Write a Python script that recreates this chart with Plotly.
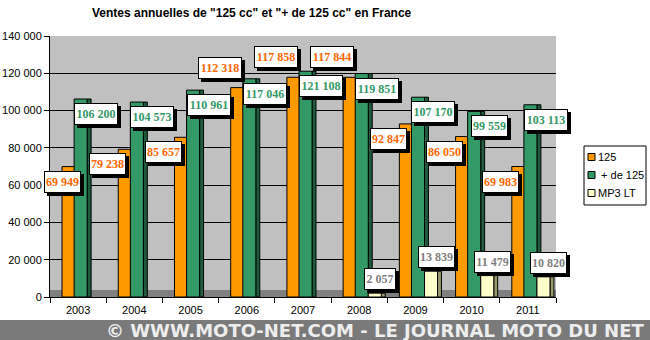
import plotly.graph_objects as go

years = ["2003", "2004", "2005", "2006", "2007", "2008", "2009", "2010", "2011"]
v125 = [69949, 79238, 85657, 112318, 117858, 117844, 92847, 86050, 69983]
vplus125 = [106200, 104573, 110961, 117046, 121108, 119851, 107170, 99559, 103113]
vmp3 = [None, None, None, None, None, 2057, 13839, 11479, 10820]
names = ["125", " + de 125", "MP3 LT"]
y_ticks = [0, 20000, 40000, 60000, 80000, 100000, 120000, 140000]

W, H = 650, 340
L, R, T, B = 50, 94, 36, 43
pw, ph = W - L - R, H - T - B
cat_w = pw / len(years)

def fmt(v):
    return f"{v:,}".replace(",", " ")

def px_x(p):
    return (p - L) / pw

def px_y(p):
    return (H - B - p) / ph

colors = ["#FF9900", "#339966", "#FFFFCC"]
side_colors = [None, "#1E5C3C", "#99996B"]
bw = 0.232        # bar width in category units
sw = 0.07         # depth side width
offsets = [-0.286, -0.071, 0.161]

fig = go.Figure()
for k, (name, vals, col) in enumerate(zip(names, [v125, vplus125, vmp3], colors)):
    if side_colors[k]:
        fig.add_trace(go.Bar(x=years, y=vals, showlegend=False, hoverinfo="skip",
                             width=sw, offset=offsets[k] + bw,
                             marker=dict(color=side_colors[k], line=dict(color="black", width=1))))
    fig.add_trace(go.Bar(x=years, y=vals, name=name, showlegend=False, hoverinfo="skip",
                         width=bw, offset=offsets[k],
                         marker=dict(color=col, line=dict(color="black", width=1))))

ann = []
def label(i, v, text_color, xs, ys):
    s = fmt(v)
    w = {7: 42, 6: 35, 5: 30}.get(len(s), 6 * len(s) + 2)
    # keep the box centre at least 13 px inside the plot area
    xs = max(xs, 13 - (i + 0.5) * cat_w)
    common = dict(x=i, y=v, xref="x", yref="y", showarrow=False, borderpad=0,
                  borderwidth=1, xanchor="center", yanchor="middle", width=w, height=20)
    ann.append(dict(common, text="&nbsp;", xshift=xs + 3, yshift=ys - 3, bgcolor="black",
                    bordercolor="black",
                    font=dict(family="Liberation Serif", size=12, color="black")))
    ann.append(dict(common, text="<b>" + s + "</b>", xshift=xs, yshift=ys, bgcolor="white",
                    bordercolor="black",
                    font=dict(family="Liberation Serif", size=12, color=text_color)))

for i, v in enumerate(v125):
    label(i, v, "#FF6600", -27, 20 if v > 110000 else -15)
for i, v in enumerate(vplus125):
    label(i, v, "#339966", 18, -15)
for i, v in enumerate(vmp3):
    if v is not None:
        label(i, v, "#808080", 21, 14)

ann.append(dict(text="<b>Ventes annuelles de \"125 cc\" et \"+ de 125 cc\" en France</b>",
                xref="paper", yref="paper", x=px_x(252), y=px_y(13), showarrow=False,
                xanchor="center", yanchor="middle",
                font=dict(family="Liberation Sans", size=12, color="black")))
ann.append(dict(text="<b>© WWW.MOTO-NET.COM - LE JOURNAL MOTO DU NET</b>",
                xref="paper", yref="paper", x=px_x(375), y=px_y(330), showarrow=False,
                xanchor="center", yanchor="middle",
                font=dict(family="DejaVu Sans", size=18, color="#EDEDED")))

shapes = [
    dict(type="rect", xref="paper", yref="paper", x0=px_x(0), x1=px_x(650),
         y0=px_y(340), y1=px_y(320), fillcolor="#7A7A7A", line=dict(width=0), layer="below"),
    dict(type="rect", xref="paper", yref="paper", x0=0, x1=1,
         y0=0, y1=px_y(290), fillcolor="#808080", line=dict(width=0), layer="below"),
    dict(type="rect", xref="paper", yref="paper", x0=px_x(584), x1=px_x(646),
         y0=px_y(205), y1=px_y(146), fillcolor="white", line=dict(color="black", width=1)),
]
legend_rows = [157, 175, 193]
for name, col, yc in zip(names, colors, legend_rows):
    shapes.append(dict(type="rect", xref="paper", yref="paper",
                       x0=px_x(588), x1=px_x(595), y0=px_y(yc + 3.5), y1=px_y(yc - 3.5),
                       fillcolor=col, line=dict(color="black", width=1)))
    ann.append(dict(text=name.replace(" ", "&nbsp;"),
                    xref="paper", yref="paper", x=px_x(596), y=px_y(yc),
                    showarrow=False, xanchor="left", yanchor="middle",
                    font=dict(family="Liberation Sans", size=11, color="black")))

fig.update_layout(
    width=W, height=H,
    margin=dict(l=L, r=R, t=T, b=B, autoexpand=False),
    paper_bgcolor="white", plot_bgcolor="#C0C0C0",
    barmode="overlay",
    separators=", ",
    font=dict(family="Liberation Sans", size=11, color="black"),
    showlegend=False,
    annotations=ann, shapes=shapes,
)
fig.update_xaxes(type="category", range=[-0.5, len(years) - 0.5], showline=True,
                 linecolor="black", linewidth=1,
                 ticks="outside", ticklen=5, tickcolor="black", tickson="boundaries",
                 showgrid=False, tickfont=dict(size=11), ticklabelstandoff=3)
fig.update_yaxes(range=[0, 140000], tickvals=y_ticks, tickformat=",d",
                 showline=True, linecolor="black", linewidth=1, ticks="outside",
                 ticklen=5, tickcolor="black", gridcolor="black", gridwidth=1,
                 zeroline=False, tickfont=dict(size=11))

fig.write_html("out.html")
